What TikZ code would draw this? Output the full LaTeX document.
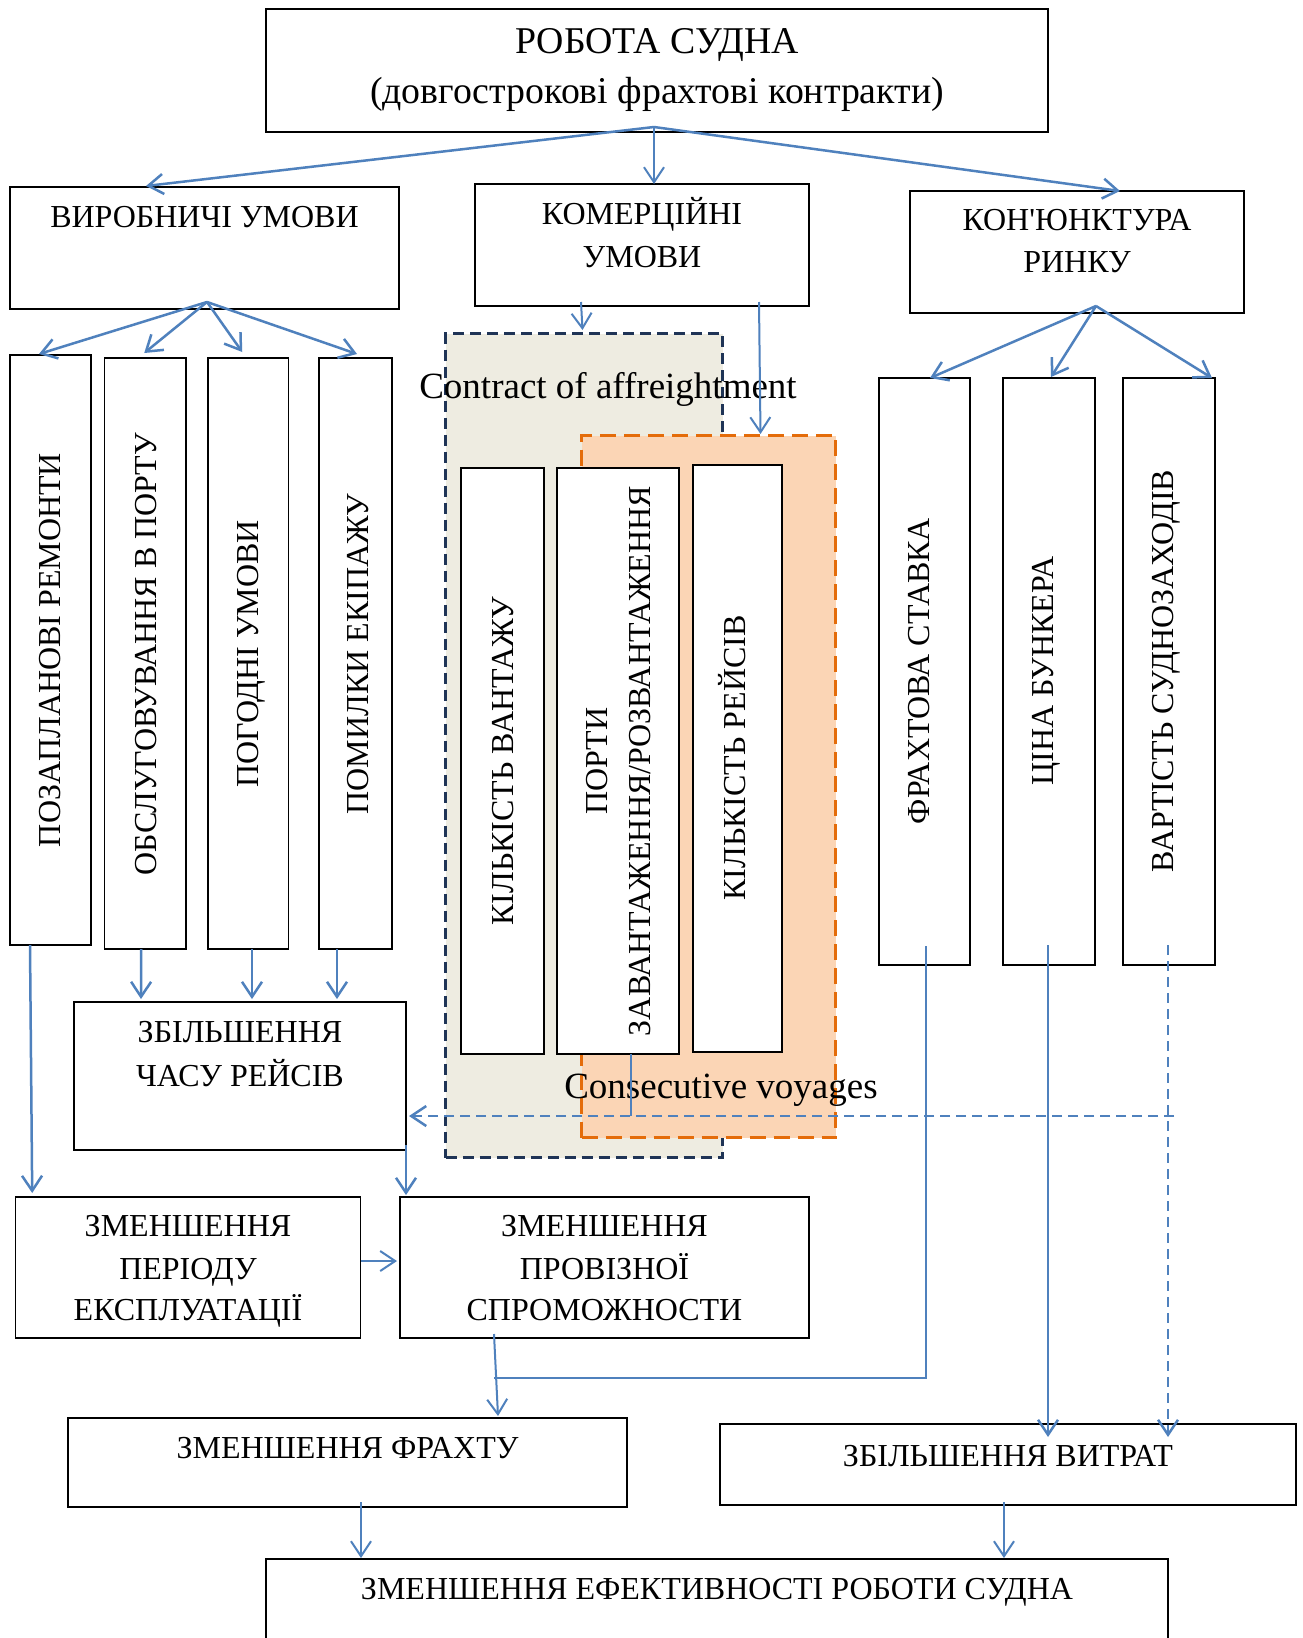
\documentclass[tikz,border=0pt]{standalone}
\usepackage{fontspec}
\setmainfont{Liberation Serif}[Ligatures=TeXOff]
\usetikzlibrary{arrows.meta,calc}
\definecolor{arrblue}{RGB}{79,129,189}
\definecolor{grayfill}{RGB}{238,236,225}
\definecolor{grayedge}{RGB}{31,52,86}
\definecolor{orfill}{RGB}{251,213,181}
\definecolor{oredge}{RGB}{228,108,10}
\tikzset{
  box/.style={draw=black, line width=1.3pt, fill=white, inner sep=0pt, outer sep=0pt, anchor=north west},
  lbl/.style={anchor=base, inner sep=0pt, outer sep=0pt, font=\fontsize{32}{38}\selectfont},
  biglbl/.style={lbl, font=\fontsize{37.8}{44}\selectfont},
  englbl/.style={lbl, font=\fontsize{37}{44}\selectfont},
  vlbl/.style={lbl, rotate=90},
  arr/.style={draw=arrblue, line width=2.5pt, -{Straight Barb[length=15pt,width=20pt]}},
  arrthin/.style={arr, line width=2pt},
  dasharr/.style={arrthin, line width=2.5pt, dash pattern=on 10pt off 6pt},
  thinline/.style={draw=arrblue, line width=1.3pt},
  region/.style={line width=3pt, inner sep=0pt, anchor=north west},
}
\begin{document}
\begin{tikzpicture}[x=1pt,y=-1pt]
\useasboundingbox (0,0) rectangle (1303,1638);
\clip (0,0) rectangle (1303,1638);
\fill[white] (0,0) rectangle (1303,1638);

% main boxes
\node[box, minimum width=782pt, minimum height=123pt] (top) at (266,9) {};
\node[box, minimum width=389pt, minimum height=122pt] (prod) at (10,187) {};
\node[box, minimum width=334pt, minimum height=122pt] (comm) at (475,184) {};
\node[box, minimum width=334pt, minimum height=122pt] (mkt) at (910,191) {};

\node[box, minimum width=81pt, minimum height=590pt] (rem) at (10,355) {};
\node[box, minimum width=81.5pt, minimum height=591pt] (port) at (104.5,358) {};
\node[box, minimum width=80.5pt, minimum height=591pt] (weat) at (208,358) {};
\node[box, minimum width=73pt, minimum height=591pt] (crew) at (319,358) {};

\node[box, minimum width=91pt, minimum height=587pt] (rate) at (879,378) {};
\node[box, minimum width=92pt, minimum height=587pt] (bunk) at (1003,378) {};
\node[box, minimum width=92pt, minimum height=587pt] (call) at (1123,378) {};

\node[box, minimum width=332pt, minimum height=148pt] (time) at (74,1002) {};
\node[box, minimum width=345pt, minimum height=141pt] (period) at (15.7,1197) {};
\node[box, minimum width=409pt, minimum height=141pt] (cap) at (400,1197) {};
\node[box, minimum width=559pt, minimum height=89pt] (freight) at (68,1418) {};
\node[box, minimum width=576pt, minimum height=81pt] (costs) at (720,1424) {};
\node[box, minimum width=902pt, minimum height=101pt] (eff) at (266,1559) {};

% contract regions
\node[region, draw=grayedge, fill=grayfill, dash pattern=on 11pt off 6pt,
      minimum width=277pt, minimum height=824pt] (coa) at (444,332) {};
\node[region, draw=oredge, fill=orfill, dash pattern=on 16pt off 8pt,
      minimum width=254pt, minimum height=702pt] (cv) at (580,434) {};

\node[box, minimum width=83pt, minimum height=586pt] (cargo) at (461,468) {};
\node[box, minimum width=122pt, minimum height=586pt] (ports) at (557,468) {};
\node[box, minimum width=89pt, minimum height=587pt] (voy) at (693,465) {};

% texts
\node[biglbl] (topT1) at (657,53) {РОБОТА СУДНА};
\node[biglbl] (topT2) at (657,103) {(довгострокові фрахтові контракти)};
\node[lbl] (prodT) at (204.5,227) {ВИРОБНИЧІ УМОВИ};
\node[lbl] (commT1) at (642,224) {КОМЕРЦІЙНІ};
\node[lbl] (commT2) at (642,267) {УМОВИ};
\node[lbl] (mktT1) at (1077,230) {КОН'ЮНКТУРА};
\node[lbl] (mktT2) at (1077,272) {РИНКУ};

\node[vlbl] (remT) at (60,650) {ПОЗАПЛАНОВІ РЕМОНТИ};
\node[vlbl] (portT) at (156,654) {ОБСЛУГОВУВАННЯ В ПОРТУ};
\node[vlbl] (weatT) at (258.5,654) {ПОГОДНІ УМОВИ};
\node[vlbl] (crewT) at (368,654) {ПОМИЛКИ ЕКІПАЖУ};

\node[englbl] (coaT) at (608,398) {Contract of affreightment};
\node[vlbl] (cargoT) at (513,761) {КІЛЬКІСТЬ ВАНТАЖУ};
\node[vlbl] (portsT1) at (607.5,761) {ПОРТИ};
\node[vlbl] (portsT2) at (650.5,761) {ЗАВАНТАЖЕННЯ/РОЗВАНТАЖЕННЯ};
\node[vlbl] (voyT) at (745,758) {КІЛЬКІСТЬ РЕЙСІВ};
\node[englbl] (cvT) at (721,1098) {Consecutive voyages};

\node[vlbl] (rateT) at (929,671) {ФРАХТОВА СТАВКА};
\node[vlbl] (bunkT) at (1053.5,671) {ЦІНА БУНКЕРА};
\node[vlbl] (callT) at (1173.5,671) {ВАРТІСТЬ СУДНОЗАХОДІВ};

\node[lbl] (timeT1) at (240,1042) {ЗБІЛЬШЕННЯ};
\node[lbl] (timeT2) at (240,1086) {ЧАСУ РЕЙСІВ};
\node[lbl] (periodT1) at (188,1236) {ЗМЕНШЕННЯ};
\node[lbl] (periodT2) at (188,1279) {ПЕРІОДУ};
\node[lbl] (periodT3) at (188,1320) {ЕКСПЛУАТАЦІЇ};
\node[lbl] (capT1) at (604.5,1236) {ЗМЕНШЕННЯ};
\node[lbl] (capT2) at (604.5,1279) {ПРОВІЗНОЇ};
\node[lbl] (capT3) at (604.5,1320) {СПРОМОЖНОСТИ};
\node[lbl] (freightT) at (347.5,1458) {ЗМЕНШЕННЯ ФРАХТУ};
\node[lbl] (costsT) at (1008,1466) {ЗБІЛЬШЕННЯ ВИТРАТ};
\node[lbl] (effT) at (717,1599) {ЗМЕНШЕННЯ ЕФЕКТИВНОСТІ РОБОТИ СУДНА};

% connectors: top fan
\draw[arr] ([shift={(-3pt,5pt)}]top.south) -- ([shift={(-58.5pt,1pt)}]prod.north);
\draw[arrthin] ([shift={(-3pt,5pt)}]top.south) -- ([shift={(12pt,0pt)}]comm.north);
\draw[arr] ([shift={(-3pt,5pt)}]top.south) -- ([shift={(43pt,0pt)}]mkt.north);

% production fan
\draw[arr] ([shift={(2.5pt,7pt)}]prod.south) -- ([shift={(-11.5pt,1pt)}]rem.north);
\draw[arr] ([shift={(2.5pt,7pt)}]prod.south) -- ([shift={(-1pt,5pt)}]port.north);
\draw[arr] ([shift={(2.5pt,7pt)}]prod.south) -- ([shift={(-6pt,6pt)}]weat.north);
\draw[arr] ([shift={(2.5pt,7pt)}]prod.south) -- ([shift={(1.5pt,4pt)}]crew.north);

% commercial
\draw[arrthin] ([shift={(-61pt,4pt)}]comm.south) -- ([shift={(-1.5pt,2pt)}]coa.north);
\draw[arrthin] ([shift={(117pt,4pt)}]comm.south) -- ([shift={(52pt,0pt)}]cv.north);

% market fan
\draw[arr] ([shift={(19pt,7pt)}]mkt.south) -- ([shift={(5.5pt,0pt)}]rate.north);
\draw[arr] ([shift={(19pt,7pt)}]mkt.south) -- ([shift={(2pt,1pt)}]bunk.north);
\draw[arr] ([shift={(19pt,7pt)}]mkt.south) -- ([shift={(43pt,0pt)}]call.north);

% down arrows on the left
\draw[arr] ([shift={(-20.5pt,0pt)}]rem.south) -- ([shift={(-156pt,4pt)}]period.north);
\draw[arr] ([shift={(-4pt,0pt)}]port.south) -- ([shift={(-99pt,3pt)}]time.north);
\draw[arr] ([shift={(3.75pt,0pt)}]weat.south) -- ([shift={(12pt,3pt)}]time.north);
\draw[arr] ([shift={(-18.5pt,0pt)}]crew.south) -- ([shift={(97pt,3pt)}]time.north);
\draw[arr] ([shift={(0pt,5pt)}]time.south east) -- ([shift={(6pt,2pt)}]cap.north west);
\draw[arrthin] ([shift={(0pt,6.5pt)}]period.east) -- ([shift={(-3pt,6.5pt)}]cap.west);
\draw[arrthin] ([shift={(-110.5pt,4pt)}]cap.south) -- ([shift={(150.5pt,2pt)}]freight.north);

% right side lines
\draw[thinline] ([shift={(1.5pt,19pt)}]rate.south) -- ++(0,432) -- ++(-432,0);
\draw[arr] ([shift={(-1pt,20pt)}]bunk.south) -- ([shift={(40pt,-13pt)}]costs.north);
\draw[dasharr] ([shift={(-1pt,20pt)}]call.south) -- ([shift={(160pt,-13pt)}]costs.north);
\draw[dasharr] ([shift={(5pt,-151pt)}]call.south) -- ([shift={(3pt,-40pt)}]time.east);
\draw[thinline] ([shift={(13pt,0pt)}]ports.south) -- ++(0,62);

% bottom
\draw[arrthin] ([shift={(13.5pt,5pt)}]freight.south) -- ([shift={(-356pt,1pt)}]eff.north);
\draw[arrthin] ([shift={(-4pt,3pt)}]costs.south) -- ([shift={(287pt,1pt)}]eff.north);
\end{tikzpicture}
\end{document}
